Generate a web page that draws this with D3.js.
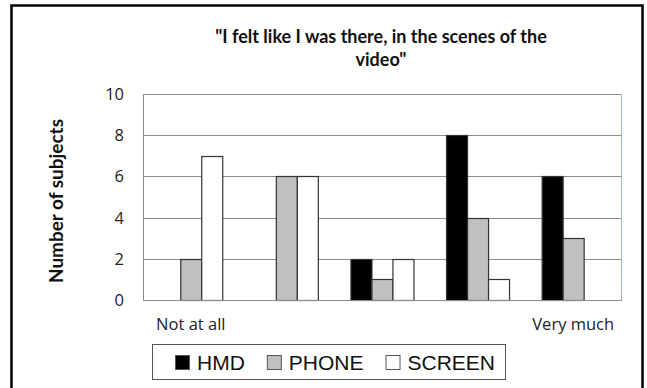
<!DOCTYPE html>
<html>
<head>
<meta charset="utf-8">
<script src="https://cdn.jsdelivr.net/npm/d3@7"></script>
<style>
  body { margin: 0; background: #fff; }
  svg { display: block; }
</style>
</head>
<body>
<script>
// answers on the 5-point scale, only the two ends are labelled
const categories = ["1", "2", "3", "4", "5"];
const catLabels = ["Not at all", "", "", "", "Very much"];
const series = ["HMD", "PHONE", "SCREEN"];
const hmd = [0, 0, 2, 8, 6];
const phone = [2, 6, 1, 4, 3];
const screen = [7, 6, 2, 1, 0];
const yTicks = [0, 2, 4, 6, 8, 10];
const titleLines = ['"I felt like I was there, in the scenes of the', 'video"'];

const width = 647, height = 388;
const colors = { HMD: "#000000", PHONE: "#c0c0c0", SCREEN: "#ffffff" };
const values = { HMD: hmd, PHONE: phone, SCREEN: screen };

const svg = d3.select("body").append("svg")
  .attr("width", width).attr("height", height);

const plot = { left: 143, right: 621, top: 94, bottom: 300 };

// outer frame
svg.append("rect")
  .attr("x", 11.5).attr("y", 5.5)
  .attr("width", 631).attr("height", 400)
  .attr("fill", "none").attr("stroke", "#000").attr("stroke-width", 2.5);

const x0 = d3.scaleBand().domain(categories)
  .range([plot.left, plot.right]).paddingInner(0.34).paddingOuter(0.17);
const x1 = d3.scaleBand().domain(series).range([0, x0.bandwidth()]);
const y = d3.scaleLinear().domain([0, 10]).range([plot.bottom, plot.top]);

// plot area border (light blue on top/right)
svg.append("rect")
  .attr("x", plot.left + 0.5).attr("y", plot.top + 0.5)
  .attr("width", plot.right - plot.left).attr("height", plot.bottom - plot.top)
  .attr("fill", "none").attr("stroke", "#9bb9de").attr("stroke-width", 1);

// gridlines
svg.append("g")
  .selectAll("line").data(yTicks.filter(d => d > 0)).join("line")
  .attr("x1", plot.left).attr("x2", plot.right)
  .attr("y1", d => Math.round(y(d)) + 0.5).attr("y2", d => Math.round(y(d)) + 0.5)
  .attr("stroke", "#8c8c8c");

// bars
const groups = svg.append("g").selectAll("g").data(categories).join("g")
  .attr("transform", c => `translate(${x0(c)},0)`);
groups.selectAll("rect")
  .data((c, i) => series.map(s => ({ s, v: values[s][i] })))
  .join("rect")
  .filter(d => d.v > 0)
  .attr("x", d => Math.round(x1(d.s)) + 0.5)
  .attr("width", Math.round(x1.bandwidth()))
  .attr("y", d => Math.round(y(d.v)) + 0.5)
  .attr("height", d => Math.round(y(0)) - Math.round(y(d.v)))
  .attr("fill", d => colors[d.s])
  .attr("stroke", "#333").attr("stroke-width", 1.2);

// axes lines
svg.append("line")
  .attr("x1", plot.left + 0.5).attr("x2", plot.left + 0.5)
  .attr("y1", plot.top).attr("y2", plot.bottom + 1)
  .attr("stroke", "#8c8c8c");
svg.append("line")
  .attr("x1", plot.left).attr("x2", plot.right + 1)
  .attr("y1", plot.bottom + 0.5).attr("y2", plot.bottom + 0.5)
  .attr("stroke", "#8c8c8c");

// y tick labels
svg.append("g").selectAll("text").data(yTicks).join("text")
  .attr("x", 124).attr("y", d => y(d) + 6)
  .attr("text-anchor", "end")
  .attr("font-family", "Open Sans, sans-serif").attr("font-size", 16.5)
  .attr("fill", "#222")
  .text(d => d);

// category labels
svg.append("g").selectAll("text").data(categories).join("text")
  .attr("x", c => x0(c) + x0.bandwidth() / 2).attr("y", 330)
  .attr("text-anchor", "middle")
  .attr("font-family", "Open Sans, sans-serif").attr("font-size", 16.5)
  .attr("fill", "#222")
  .text((c, i) => catLabels[i]);

// title
svg.append("g").selectAll("text").data(titleLines).join("text")
  .attr("x", (plot.left + plot.right) / 2 - 1).attr("y", (d, i) => 43 + i * 23)
  .attr("text-anchor", "middle")
  .attr("font-family", "Lato, sans-serif").attr("font-weight", "bold").attr("font-size", 18)
  .attr("fill", "#111")
  .text(d => d);

// y axis title
svg.append("text")
  .attr("transform", "translate(63,201) rotate(-90)")
  .attr("text-anchor", "middle")
  .attr("font-family", "Lato, sans-serif").attr("font-weight", "bold").attr("font-size", 19)
  .attr("textLength", 164).attr("lengthAdjust", "spacingAndGlyphs")
  .attr("fill", "#111")
  .text("Number of subjects");

// legend
const legend = svg.append("g");
legend.append("rect")
  .attr("x", 152.5).attr("y", 344.5).attr("width", 353).attr("height", 35)
  .attr("fill", "#fff").attr("stroke", "#555");
let lx = 175;
series.forEach(s => {
  legend.append("rect")
    .attr("x", lx + 0.5).attr("y", 355.5).attr("width", 14).attr("height", 14)
    .attr("fill", colors[s]).attr("stroke", "#555");
  const t = legend.append("text")
    .attr("x", lx + 22).attr("y", 370)
    .attr("font-family", "Liberation Sans, Arial, sans-serif").attr("font-size", 21)
    .attr("fill", "#111")
    .text(s);
  lx += 22 + t.node().getComputedTextLength() + 22;
});
</script>
</body>
</html>
